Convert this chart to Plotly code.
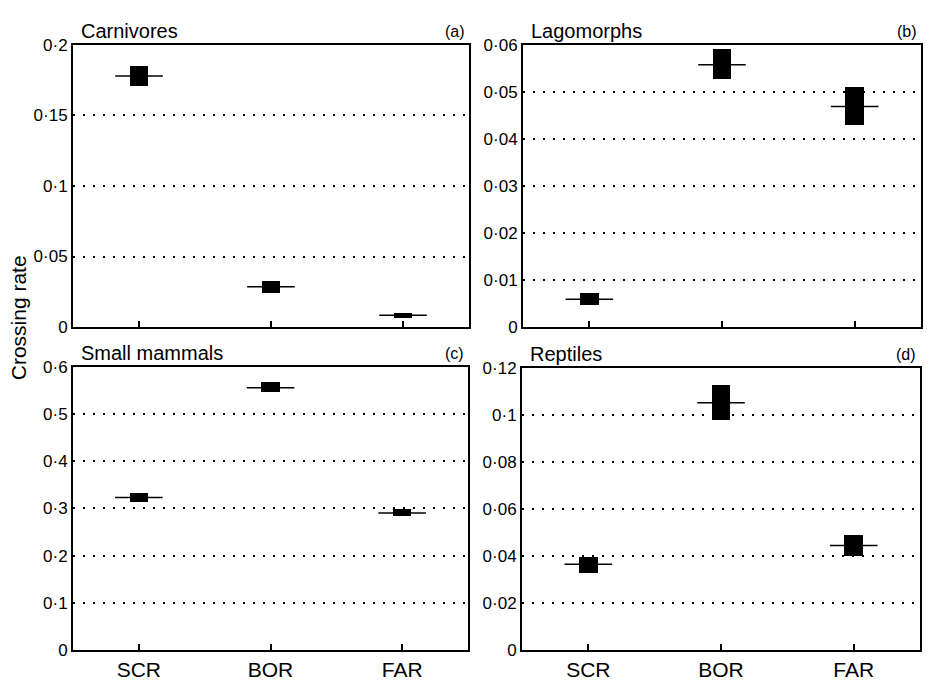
import plotly.graph_objects as go

W, H = 929, 691

categories = ["SCR", "BOR", "FAR"]

carn_low = [0.171, 0.0241, 0.0067]
carn_high = [0.185, 0.0324, 0.0099]
carn_med = [0.178, 0.0285, 0.0083]

lago_low = [0.0047, 0.0528, 0.0429]
lago_high = [0.0072, 0.0592, 0.0511]
lago_med = [0.0059, 0.0558, 0.0469]

small_low = [0.314, 0.546, 0.285]
small_high = [0.333, 0.568, 0.299]
small_med = [0.323, 0.556, 0.290]

rept_low = [0.0327, 0.0978, 0.0400]
rept_high = [0.0396, 0.1127, 0.0490]
rept_med = [0.0364, 0.1051, 0.0444]

titles = ["Carnivores", "Lagomorphs", "Small mammals", "Reptiles"]
letters = ["(a)", "(b)", "(c)", "(d)"]

yticks_a = [0, 0.05, 0.1, 0.15, 0.2]
yticktext_a = ["0", "0·05", "0·1", "0·15", "0·2"]
yticks_b = [0, 0.01, 0.02, 0.03, 0.04, 0.05, 0.06]
yticktext_b = ["0", "0·01", "0·02", "0·03", "0·04", "0·05", "0·06"]
yticks_c = [0, 0.1, 0.2, 0.3, 0.4, 0.5, 0.6]
yticktext_c = ["0", "0·1", "0·2", "0·3", "0·4", "0·5", "0·6"]
yticks_d = [0, 0.02, 0.04, 0.06, 0.08, 0.1, 0.12]
yticktext_d = ["0", "0·02", "0·04", "0·06", "0·08", "0·1", "0·12"]

panels = [
    (carn_low, carn_high, carn_med, yticks_a, yticktext_a, 0.2),
    (lago_low, lago_high, lago_med, yticks_b, yticktext_b, 0.06),
    (small_low, small_high, small_med, yticks_c, yticktext_c, 0.6),
    (rept_low, rept_high, rept_med, yticks_d, yticktext_d, 0.12),
]

# pixel boxes: (left, right, top, bottom)
boxes = [(73, 469, 37, 327), (523, 921, 37, 327), (73, 468, 368, 659), (522, 920, 369, 659)]

FONT = "Liberation Sans, Arial, Helvetica, sans-serif"

fig = go.Figure()
layout = dict(
    width=W, height=H,
    margin=dict(l=0, r=0, t=0, b=0),
    paper_bgcolor="white", plot_bgcolor="white",
    showlegend=False,
    font=dict(family=FONT, color="black"),
    bargap=0,
)
annotations = []

for i, (low, high, med, tv, tt, ymax) in enumerate(panels):
    n = i + 1
    xa = "x" if n == 1 else f"x{n}"
    ya = "y" if n == 1 else f"y{n}"
    l, r, t, b = boxes[i]
    fig.add_trace(go.Bar(
        x=categories, y=[h - lo for h, lo in zip(high, low)], base=low,
        width=0.14, marker=dict(color="black", line=dict(width=0)),
        xaxis=xa, yaxis=ya, hoverinfo="skip",
    ))
    fig.add_trace(go.Scatter(
        x=categories, y=med, mode="markers",
        marker=dict(symbol="line-ew", size=34, color="black",
                    line=dict(width=1.5, color="black")),
        xaxis=xa, yaxis=ya, hoverinfo="skip",
    ))
    xkey = "xaxis" if n == 1 else f"xaxis{n}"
    ykey = "yaxis" if n == 1 else f"yaxis{n}"
    layout[xkey] = dict(
        domain=[l / W, r / W], anchor=ya, type="category",
        categoryorder="array", categoryarray=categories,
        range=[-0.5, 2.5], showgrid=False, zeroline=False,
        showline=True, linecolor="black", linewidth=2, mirror=True,
        ticks="inside", ticklen=6, tickwidth=1.5, tickcolor="black",
        showticklabels=(n >= 3),
        tickfont=dict(size=21, family=FONT, color="black"),
    )
    layout[ykey] = dict(
        domain=[1 - b / H, 1 - t / H], anchor=xa,
        range=[0, ymax], tickvals=tv, ticktext=tt,
        showgrid=True, gridcolor="black", gridwidth=2, griddash="2px,8px",
        zeroline=False, showline=True, linecolor="black", linewidth=2,
        mirror=True, ticks="",
        tickfont=dict(size=17, family=FONT, color="black"),
    )
    annotations.append(dict(
        text=titles[i], xref="paper", yref="paper",
        x=(l + 6) / W, y=1 - t / H, xanchor="left", yanchor="bottom",
        yshift=1, showarrow=False, font=dict(size=20, family=FONT, color="black"),
    ))
    annotations.append(dict(
        text=letters[i], xref="paper", yref="paper",
        x=(r - 2) / W, y=1 - t / H, xanchor="right", yanchor="bottom",
        yshift=3, showarrow=False, font=dict(size=16, family=FONT, color="black"),
    ))

annotations.append(dict(
    text="Crossing rate", xref="paper", yref="paper",
    x=18 / W, y=1 - 318 / H, xanchor="center", yanchor="middle",
    textangle=-90, showarrow=False, font=dict(size=21, family=FONT, color="black"),
))
layout["annotations"] = annotations
fig.update_layout(**layout)
fig.write_html("out.html")
